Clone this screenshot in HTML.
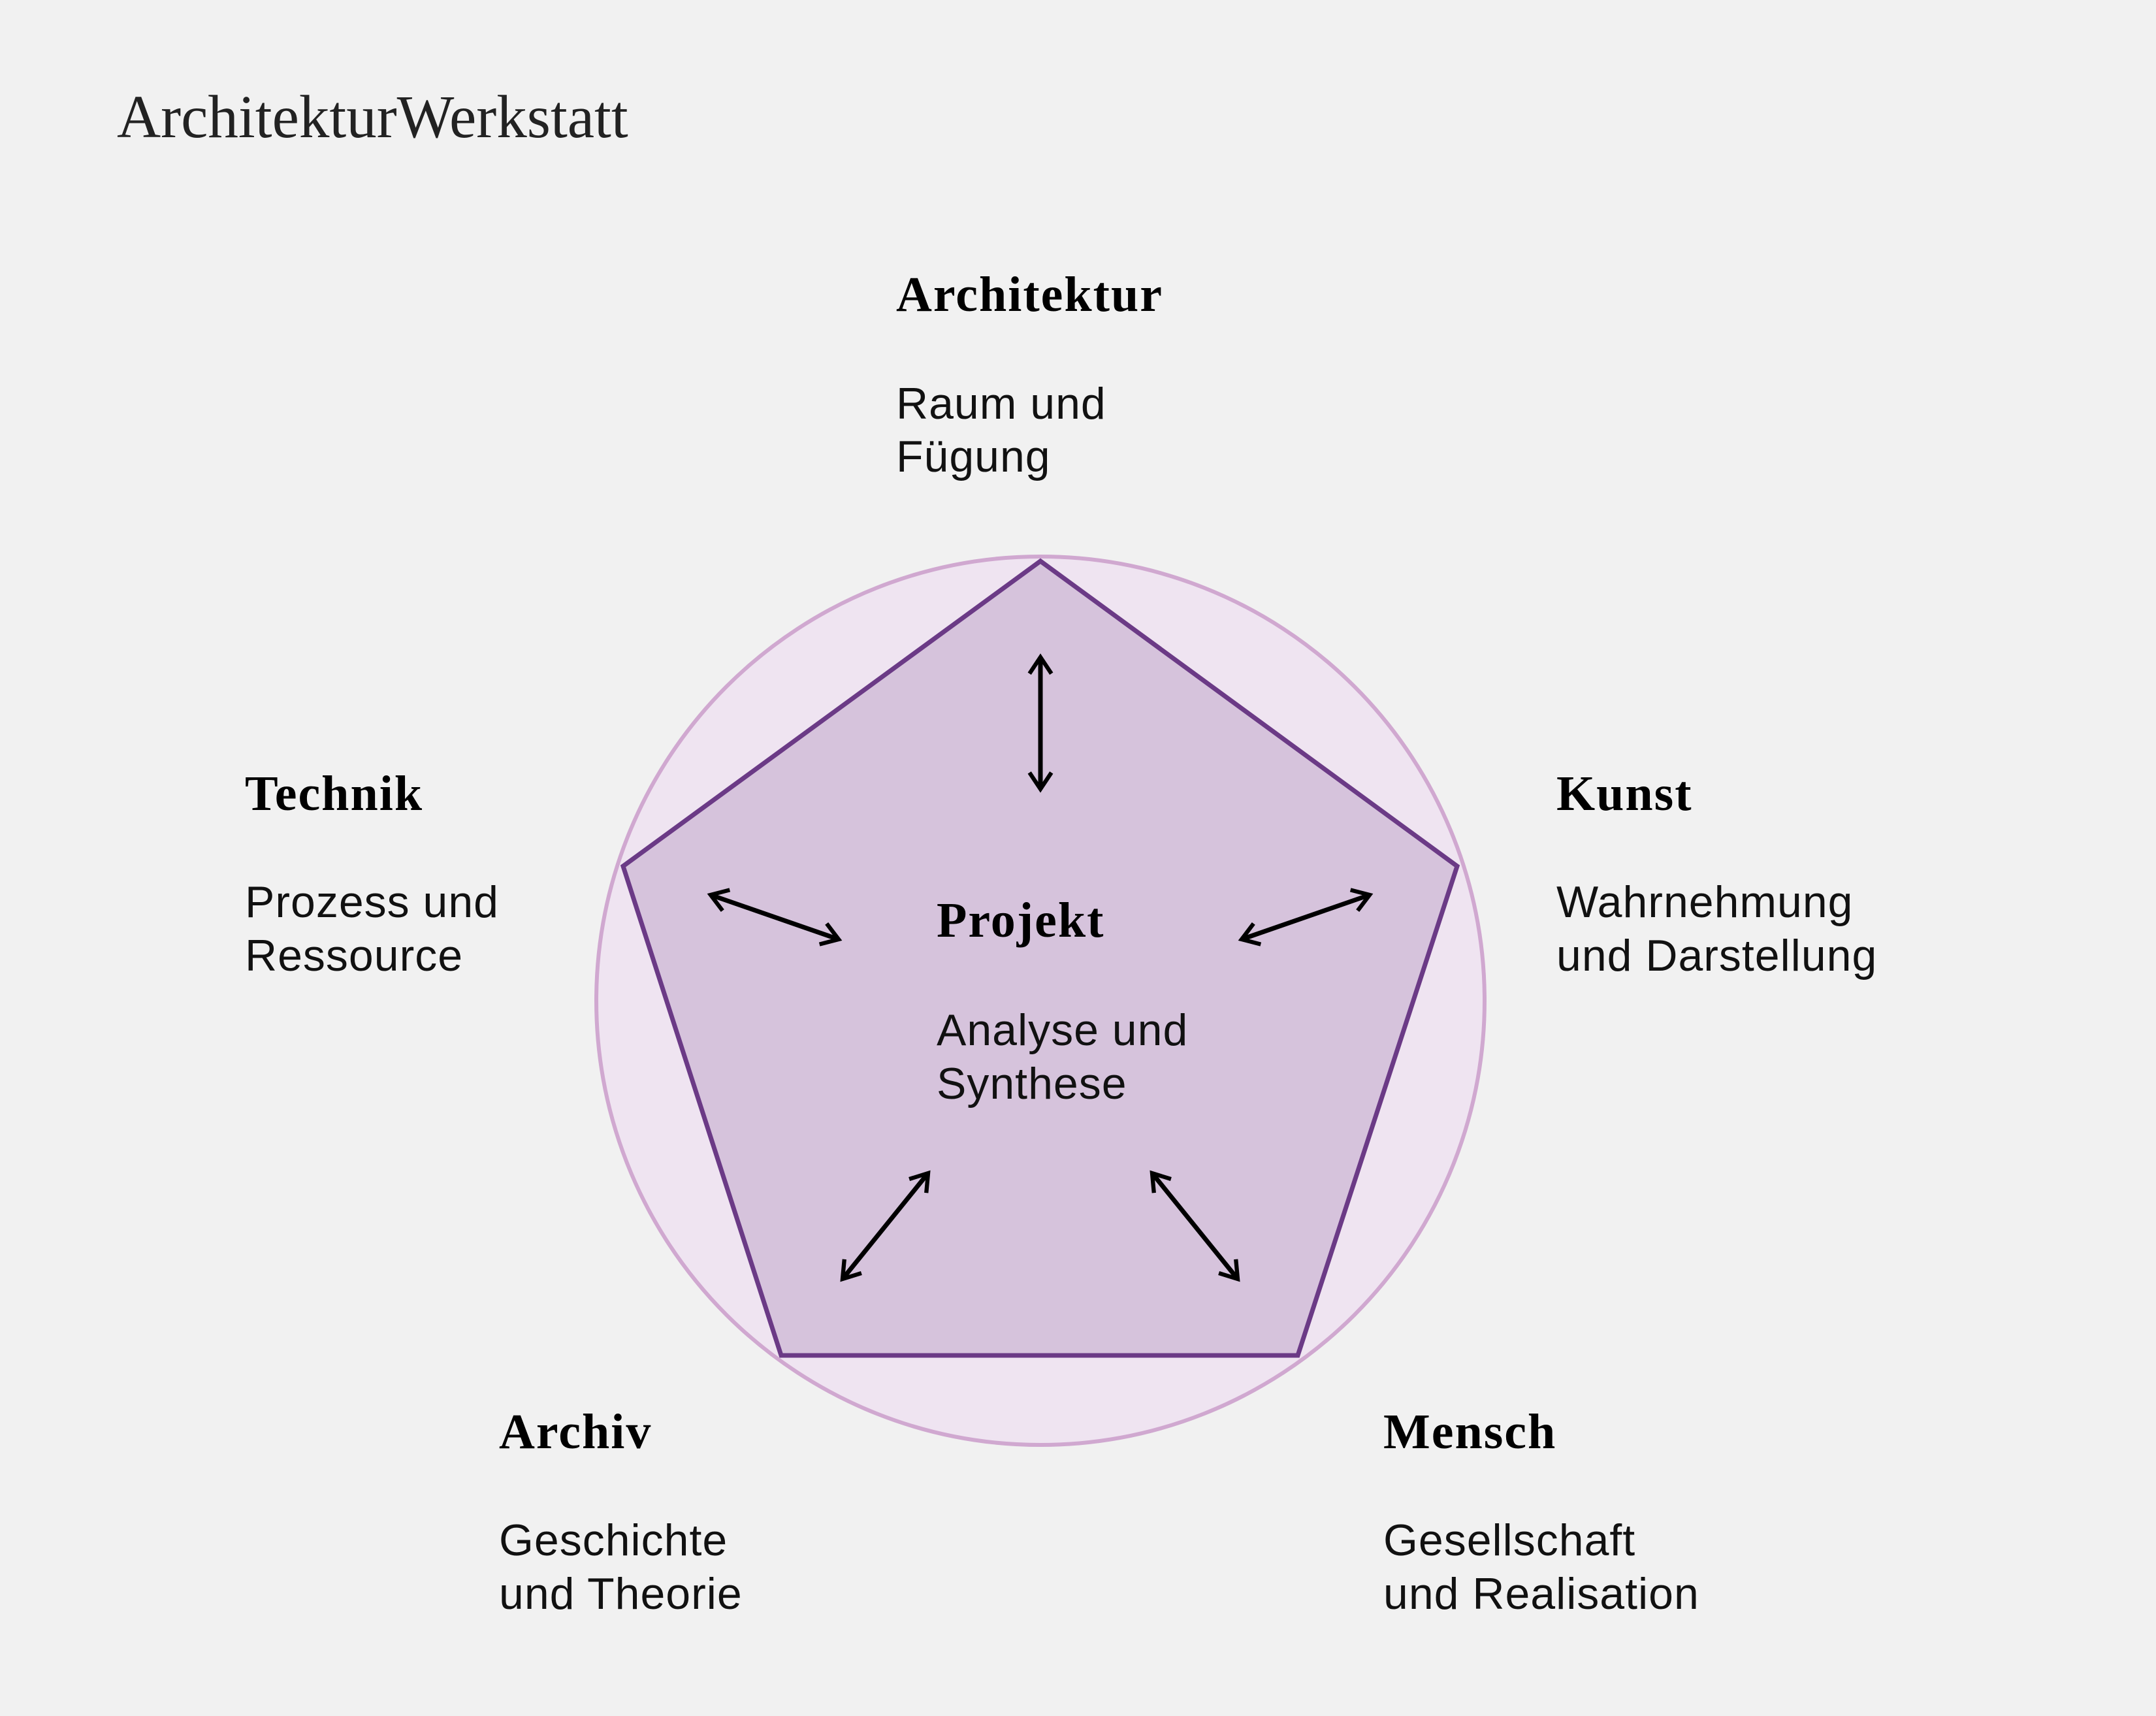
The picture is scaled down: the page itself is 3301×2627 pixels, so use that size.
<!DOCTYPE html>
<html><head><meta charset="utf-8"><style>
html,body{margin:0;padding:0;background:#f1f1f1;}
svg{display:block;}
.b{font-family:"Liberation Serif",serif;font-weight:bold;font-size:76px;fill:#000;letter-spacing:2px;}
.s{font-family:"Liberation Sans",sans-serif;font-size:68px;fill:#111;letter-spacing:1px;}
</style></head><body>
<svg width="3301" height="2627" viewBox="0 0 3301 2627" xmlns="http://www.w3.org/2000/svg">
<defs>
<marker id="a" viewBox="0 0 20 20" refX="14" refY="10" markerWidth="6" markerHeight="6" orient="auto-start-reverse" markerUnits="strokeWidth">
<path d="M2,2 L14,10 L2,18" fill="none" stroke="#000" stroke-width="3"/>
</marker>
</defs>
<rect width="3301" height="2627" fill="#f1f1f1"/>
<text x="179" y="210" font-family="Liberation Serif, serif" font-size="93" fill="#222">ArchitekturWerkstatt</text>
<circle cx="1593" cy="1532" r="680" fill="#efe4f1" stroke="#d0a8d0" stroke-width="6"/>
<polygon points="1593,859 2231,1326 1987,2075 1196,2075 954,1326" fill="#d6c3dc" stroke="#6b3a86" stroke-width="7" stroke-linejoin="miter"/>
<g stroke="#000" stroke-width="7" marker-start="url(#a)" marker-end="url(#a)">
<line x1="1593" y1="1006" x2="1593" y2="1208"/>
<line x1="1088" y1="1370" x2="1284" y2="1438"/>
<line x1="2097" y1="1370" x2="1901" y2="1438"/>
<line x1="1421" y1="1796" x2="1290" y2="1958"/>
<line x1="1764" y1="1796" x2="1895" y2="1958"/>
</g>
<text class="b" x="1372" y="476">Architektur</text>
<text class="s" x="1372" y="641">Raum und</text>
<text class="s" x="1372" y="722">Fügung</text>
<text class="b" x="375" y="1240">Technik</text>
<text class="s" x="375" y="1404">Prozess und</text>
<text class="s" x="375" y="1486">Ressource</text>
<text class="b" x="2383" y="1240">Kunst</text>
<text class="s" x="2383" y="1404">Wahrnehmung</text>
<text class="s" x="2383" y="1486">und Darstellung</text>
<text class="b" x="1434" y="1434">Projekt</text>
<text class="s" x="1434" y="1600">Analyse und</text>
<text class="s" x="1434" y="1682">Synthese</text>
<text class="b" x="764" y="2217">Archiv</text>
<text class="s" x="764" y="2381">Geschichte</text>
<text class="s" x="764" y="2463">und Theorie</text>
<text class="b" x="2118" y="2217">Mensch</text>
<text class="s" x="2118" y="2381">Gesellschaft</text>
<text class="s" x="2118" y="2463">und Realisation</text>
</svg>
</body></html>
